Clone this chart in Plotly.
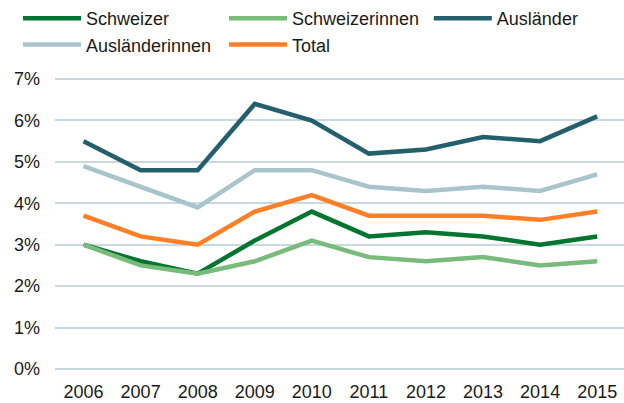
import plotly.graph_objects as go

years = ["2006", "2007", "2008", "2009", "2010", "2011", "2012", "2013", "2014", "2015"]
schweizer = [3.0, 2.6, 2.3, 3.1, 3.8, 3.2, 3.3, 3.2, 3.0, 3.2]
schweizerinnen = [3.0, 2.5, 2.3, 2.6, 3.1, 2.7, 2.6, 2.7, 2.5, 2.6]
auslaender = [5.5, 4.8, 4.8, 6.4, 6.0, 5.2, 5.3, 5.6, 5.5, 6.1]
auslaenderinnen = [4.9, 4.4, 3.9, 4.8, 4.8, 4.4, 4.3, 4.4, 4.3, 4.7]
total = [3.7, 3.2, 3.0, 3.8, 4.2, 3.7, 3.7, 3.7, 3.6, 3.8]

# (name, values, colour, legend column)
series = [
    ("Schweizer", schweizer, "#00752F", "legend"),
    ("Schweizerinnen", schweizerinnen, "#78BB7B", "legend2"),
    ("Ausländer", auslaender, "#245F6C", "legend3"),
    ("Ausländerinnen", auslaenderinnen, "#A8C5CB", "legend"),
    ("Total", total, "#FF7F27", "legend2"),
]

yticks = [0, 1, 2, 3, 4, 5, 6, 7]
yticktext = [f"{v}%" for v in yticks]

fig = go.Figure()
for name, vals, col, leg in series:
    fig.add_trace(go.Scatter(
        x=list(range(len(years))), y=vals, name=name, mode="lines",
        line=dict(color=col, width=4.5), legend=leg,
    ))

def leg(x):
    return dict(
        orientation="v", x=x, y=1.262, xanchor="left", yanchor="top",
        itemwidth=58, font=dict(size=18), bgcolor="rgba(0,0,0,0)",
        traceorder="normal", tracegroupgap=0,
    )

fig.update_layout(
    width=624, height=403,
    margin=dict(l=55, r=0, t=75, b=32),
    paper_bgcolor="white", plot_bgcolor="white",
    font=dict(family="Liberation Sans, Arial, sans-serif", size=18, color="#1a1a1a"),
    showlegend=True,
    legend=leg(-0.065),
    legend2=leg(0.297),
    legend3=leg(0.657),
    xaxis=dict(
        range=[-0.5, 9.47], tickmode="array", tickvals=list(range(len(years))),
        ticktext=years, showgrid=False, zeroline=False, showline=False,
        ticks="", ticklabelstandoff=8, automargin=False,
    ),
    yaxis=dict(
        range=[-0.05, 7.05], tickmode="array", tickvals=yticks, ticktext=yticktext,
        showgrid=True, gridcolor="#C9D9DF", gridwidth=1.5, zeroline=False,
        showline=False, ticks="", ticklabelstandoff=14, automargin=False,
    ),
)

fig.write_html("out.html", config={"displayModeBar": False},
               post_script="document.body.style.margin='0';")
